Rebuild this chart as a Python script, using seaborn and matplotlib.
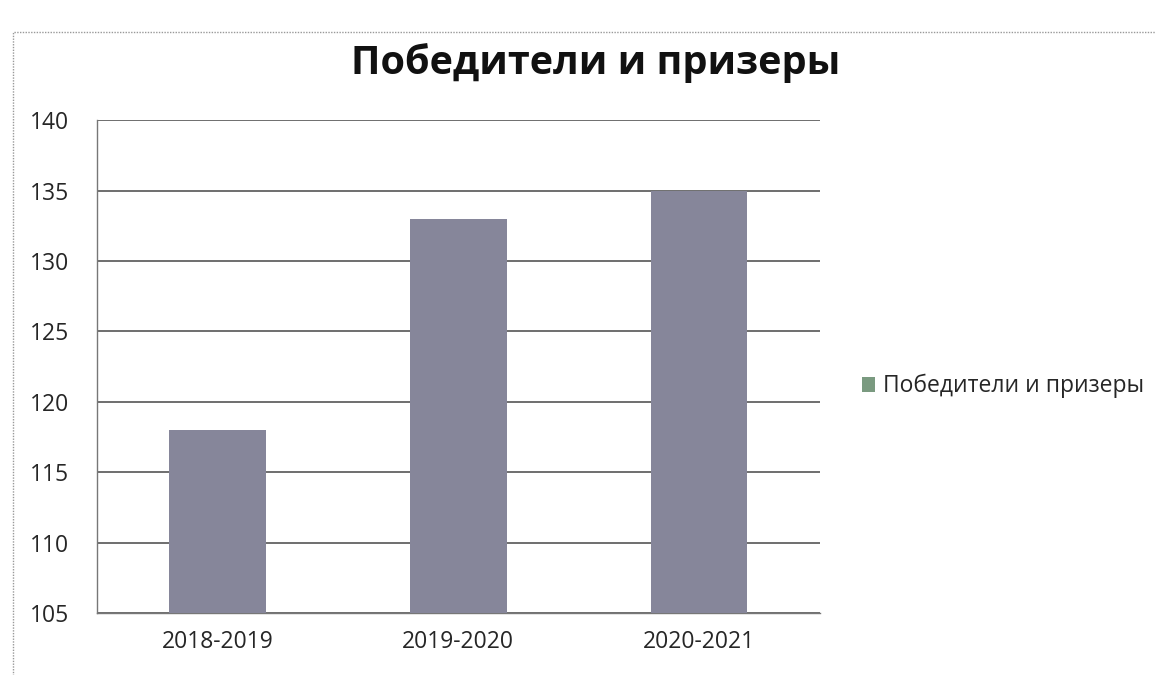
import matplotlib
matplotlib.use("Agg")
import matplotlib.pyplot as plt
import seaborn as sns
import pandas as pd
from matplotlib.patches import Rectangle, Patch

categories = ["2018-2019", "2019-2020", "2020-2021"]
values = [118, 133, 135]
series_name = "Победители и призеры"
yticks = [105, 110, 115, 120, 125, 130, 135, 140]

sns.set_theme(style="white")
plt.rcParams['font.family'] = ['Open Sans', 'DejaVu Sans']

df = pd.DataFrame({"season": categories, "value": values})

fig = plt.figure(figsize=(11.56, 6.75), dpi=100)
ax = fig.add_axes([0.084, 0.092, 0.625, 0.730])

bar_color = "#86869a"
sns.barplot(data=df, x="season", y="value", color=bar_color, width=0.4,
            ax=ax, zorder=3, saturation=1, linewidth=0)

ax.set_ylim(105, 140)
ax.set_xlim(-0.5, 2.5)
ax.set_yticks(yticks)
ax.set_yticklabels([str(t) for t in yticks], fontsize=16.5)
ax.set_xlabel("")
ax.set_ylabel("")
ax.tick_params(axis="x", which="major", length=0, labelsize=16.5, pad=12)
ax.set_xticks([-0.5, 0.5, 1.5, 2.5], minor=True)
ax.tick_params(axis="x", which="minor", length=6, color="#777777", direction="out")
ax.tick_params(axis="y", length=6, color="#777777", direction="out", pad=14)
ax.yaxis.grid(True, color="#555555", linewidth=1.2, zorder=0)
ax.set_axisbelow(True)
for s in ["top", "right"]:
    ax.spines[s].set_visible(False)
for s in ["left", "bottom"]:
    ax.spines[s].set_color("#777777")
    ax.spines[s].set_linewidth(1.0)

fig.text(0.515, 0.907, series_name, ha="center", va="center",
         fontsize=28.5, fontweight="bold", color="#111111")

leg = ax.legend(handles=[Patch(facecolor="#7a9a80", edgecolor="none", label=series_name)],
                loc="center left", bbox_to_anchor=(1.036, 0.46), frameon=False,
                fontsize=16.5, handlelength=0.6, handleheight=0.6, handletextpad=0.35,
                borderaxespad=0.3)

fig.patches.append(Rectangle((0.011, -0.01), 1.0, 0.963, transform=fig.transFigure,
                             fill=False, edgecolor="#999999", linewidth=1.0,
                             linestyle=(0, (1, 1))))

fig.savefig("out.png", dpi=100)
